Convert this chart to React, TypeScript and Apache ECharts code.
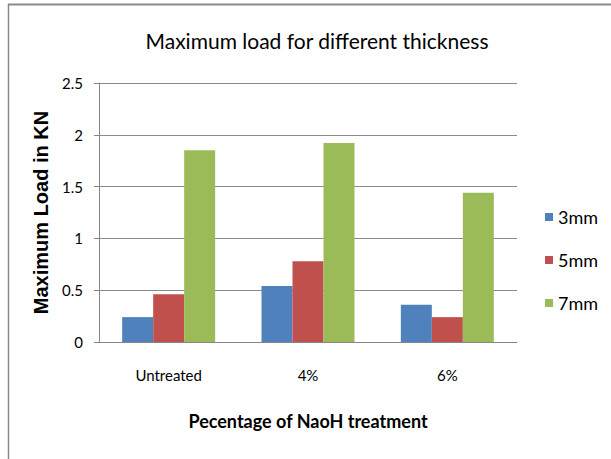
import React, { useEffect, useRef } from "react";
import * as echarts from "echarts";

const categories = ["Untreated", "4%", "6%"];
const seriesNames = ["3mm", "5mm", "7mm"];
const values3mm = [0.24, 0.54, 0.36];
const values5mm = [0.46, 0.78, 0.24];
const values7mm = [1.85, 1.92, 1.44];
const colors = ["#4F81BD", "#C0504D", "#9BBB59"];

const FONT = "Lato, 'Open Sans', sans-serif";

export default function App() {
  const ref = useRef<HTMLDivElement>(null);
  useEffect(() => {
    if (!ref.current) return;
    const chart = echarts.init(ref.current, undefined, { renderer: "svg" });
    const data = [values3mm, values5mm, values7mm];
    chart.setOption({
      animation: false,
      backgroundColor: "#ffffff",
      textStyle: { fontFamily: FONT },
      title: {
        text: "Maximum load for different thickness",
        left: 312,
        textAlign: "center",
        top: 25,
        textStyle: { fontFamily: FONT, fontSize: 21, fontWeight: "normal", color: "#000" },
      },
      legend: {
        orient: "vertical",
        left: 545,
        top: 208,
        padding: 0,
        itemWidth: 8,
        itemHeight: 8,
        itemGap: 25,
        icon: "rect",
        textStyle: { fontFamily: FONT, fontSize: 18, color: "#000", padding: [0, 0, 0, 0] },
        data: seriesNames,
      },
      grid: { left: 99, right: 94, top: 83, bottom: 117, containLabel: false },
      xAxis: {
        type: "category",
        data: categories,
        name: "Pecentage of NaoH treatment",
        nameLocation: "middle",
        nameGap: 70,
        nameTextStyle: { fontFamily: FONT, fontSize: 18, fontWeight: "bold", color: "#000" },
        axisLine: { lineStyle: { color: "#868686", width: 1 } },
        axisTick: { show: false },
        axisLabel: { margin: 25, fontFamily: FONT, fontSize: 15, color: "#000" },
      },
      yAxis: {
        type: "value",
        min: 0,
        max: 2.5,
        interval: 0.5,
        name: "Maximum Load in KN",
        nameLocation: "middle",
        nameGap: 48,
        nameTextStyle: { fontFamily: "'Liberation Sans', Arial, sans-serif", fontSize: 20, fontWeight: "bold", color: "#000" },
        axisLine: { show: true, lineStyle: { color: "#868686", width: 1 } },
        axisTick: { show: true, length: 5, lineStyle: { color: "#868686" } },
        axisLabel: { margin: 16, fontFamily: FONT, fontSize: 15, color: "#000" },
        splitLine: { lineStyle: { color: "#8a8a8a", width: 1 } },
      },
      series: seriesNames.map((name, i) => ({
        name,
        type: "bar",
        data: data[i],
        barWidth: 31,
        barGap: "0%",
        itemStyle: { color: colors[i] },
      })),
      graphic: [
        { type: "line", shape: { x1: 8, y1: 4.5, x2: 611, y2: 4.5 }, style: { stroke: "#8a8a8a", lineWidth: 2 } },
        { type: "line", shape: { x1: 8.5, y1: 4, x2: 8.5, y2: 459 }, style: { stroke: "#8a8a8a", lineWidth: 1.5 } },
      ],
    });
    return () => chart.dispose();
  }, []);
  return <div ref={ref} style={{ width: 611, height: 459, position: "absolute", left: 0, top: 0 }} />;
}
